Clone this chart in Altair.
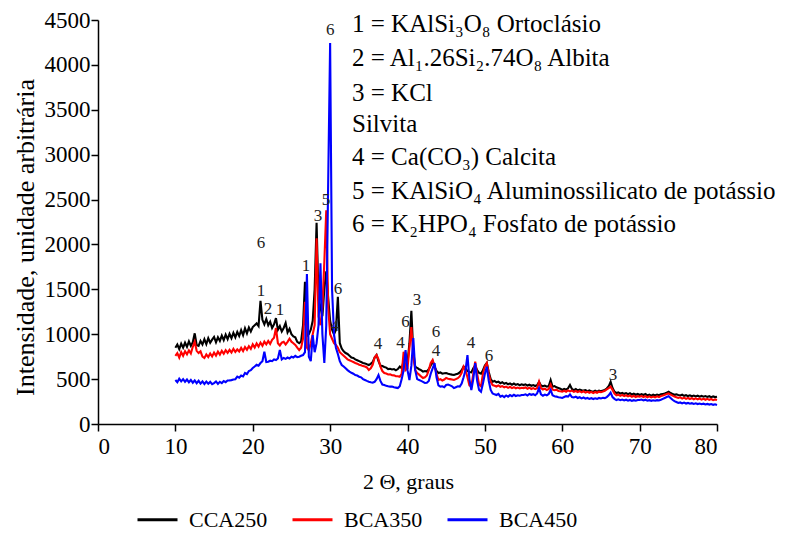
import altair as alt
import pandas as pd

# ---------------- data ----------------
series_names = ["CCA250", "BCA350", "BCA450"]
series_colors = ["#000000", "#ff0000", "#0000ff"]

theta_start = 10.0
theta_step = 0.25

cca250 = [
    850, 885, 835, 895, 850, 905, 860, 920, 870, 910, 1010, 880, 870, 925, 885, 945, 890, 955, 905, 940,
    970, 910, 965, 925, 985, 935, 995, 945, 1005, 955, 1015, 965, 1025, 980, 1045, 990, 1065, 1010, 1075, 1030,
    1080, 1100, 1120, 1090, 1373, 1160, 1110, 1170, 1100, 1140, 1070, 1110, 1180, 1050, 1090, 1030, 1070, 1125, 1020, 1060,
    1000, 975, 965, 915, 900, 920, 1100, 1585, 980, 1000, 1050, 1150, 1500, 2240, 1400, 1300, 1200, 1500, 1700, 1400,
    1150, 1050, 1000, 1050, 1418, 900, 840, 810, 790, 780, 760, 740, 735, 720, 710, 700, 690, 680, 675, 665,
    657, 670, 690, 740, 768, 700, 650, 645, 635, 628, 612, 615, 608, 612, 598, 612, 640, 620, 700, 650,
    680, 900, 1262, 800, 640, 624, 610, 600, 583, 590, 585, 610, 650, 700, 640, 590, 568, 575, 560, 565,
    568, 560, 555, 550, 546, 555, 560, 575, 600, 640, 620, 590, 580, 575, 620, 650, 600, 570, 560, 600,
    650, 680, 580, 500, 471, 480, 465, 472, 455, 465, 448, 458, 442, 452, 438, 450, 436, 444, 432, 442,
    434, 442, 428, 438, 426, 434, 423, 432, 470, 430, 420, 428, 416, 422, 490, 415, 422, 408, 402, 393,
    379, 392, 383, 397, 434, 390, 378, 390, 373, 384, 376, 372, 378, 366, 374, 363, 360, 370, 360, 372,
    365, 372, 380, 395, 420, 471, 400, 360, 345, 352, 338, 347, 336, 344, 333, 342, 328, 338, 326, 334,
    323, 332, 323, 334, 318, 328, 316, 326, 318, 328, 320, 330, 335, 340, 350, 360, 345, 335, 325, 330,
    323, 318, 326, 314, 321, 311, 319, 309, 317, 307, 315, 305, 313, 304, 311, 301, 309, 299, 307, 300,
    304,
]

bca350 = [
    760, 790, 740, 800, 760, 810, 775, 820, 785, 860, 917, 815, 790, 810, 750, 735, 775, 745, 785, 752,
    795, 762, 805, 772, 815, 782, 822, 792, 826, 797, 837, 802, 830, 807, 847, 812, 857, 827, 867, 837,
    887, 852, 897, 862, 907, 872, 917, 887, 924, 892, 937, 960, 1069, 900, 875, 906, 915, 885, 915, 950,
    917, 900, 880, 850, 824, 850, 950, 1360, 850, 820, 900, 1000, 1100, 2070, 1200, 1100, 1300, 1800, 2380, 1300,
    1000, 950, 900, 880, 850, 800, 780, 760, 740, 720, 710, 700, 690, 680, 672, 660, 655, 645, 640, 630,
    601, 620, 660, 740, 768, 720, 640, 590, 568, 562, 552, 553, 543, 542, 532, 532, 525, 560, 805, 600,
    620, 850, 1080, 750, 600, 568, 550, 530, 512, 520, 540, 600, 680, 713, 640, 560, 490, 500, 485, 495,
    512, 505, 500, 495, 490, 500, 510, 530, 570, 638, 600, 520, 430, 416, 560, 694, 560, 440, 420, 560,
    640, 679, 560, 470, 434, 427, 418, 430, 414, 422, 408, 417, 403, 414, 400, 410, 398, 406, 396, 404,
    400, 407, 393, 404, 390, 400, 388, 398, 471, 400, 385, 394, 378, 390, 440, 382, 376, 382, 368, 365,
    360, 370, 360, 374, 363, 372, 358, 368, 356, 366, 353, 364, 350, 360, 348, 358, 346, 357, 348, 360,
    355, 362, 370, 385, 400, 416, 380, 340, 320, 327, 313, 324, 310, 320, 308, 317, 303, 314, 300, 310,
    304, 312, 300, 310, 298, 308, 296, 306, 298, 308, 300, 312, 318, 326, 334, 340, 328, 316, 305, 298,
    290, 297, 283, 294, 280, 290, 278, 288, 276, 286, 274, 284, 272, 282, 270, 280, 268, 278, 266, 274,
    267,
]

bca450 = [
    490, 465, 505, 475, 500, 470, 495, 465, 490, 460, 485, 455, 482, 450, 474, 446, 472, 448, 469, 444,
    455, 474, 446, 469, 456, 479, 466, 484, 486, 489, 496, 499, 527, 515, 540, 530, 568, 555, 590, 600,
    624, 640, 660, 650, 679, 700, 805, 690, 694, 705, 700, 720, 713, 730, 824, 720, 735, 725, 740, 730,
    749, 740, 760, 745, 749, 760, 768, 800, 1670, 750, 700, 990, 800, 900, 1100, 1790, 1000, 679, 1100, 2700,
    4243, 1500, 1000, 850, 780, 700, 657, 640, 620, 600, 583, 570, 560, 545, 540, 527, 520, 500, 490, 480,
    471, 465, 460, 470, 500, 546, 480, 440, 434, 425, 420, 416, 418, 410, 405, 400, 420, 500, 600, 824,
    600, 490, 650, 957, 600, 500, 490, 480, 470, 457, 460, 480, 560, 620, 679, 520, 430, 416, 420, 410,
    434, 440, 430, 420, 400, 410, 420, 416, 450, 520, 600, 768, 500, 379, 500, 679, 480, 380, 360, 450,
    560, 638, 480, 380, 340, 330, 323, 335, 304, 315, 300, 318, 305, 322, 310, 325, 312, 320, 315, 323,
    323, 330, 318, 335, 325, 332, 320, 340, 400, 330, 315, 328, 320, 335, 380, 320, 310, 305, 298, 295,
    290, 300, 310, 305, 330, 300, 295, 305, 290, 298, 285, 295, 282, 290, 280, 288, 278, 286, 280, 290,
    285, 292, 288, 300, 320, 350, 300, 280, 267, 275, 265, 272, 262, 270, 260, 268, 258, 265, 260, 268,
    267, 272, 262, 270, 260, 266, 258, 264, 260, 266, 262, 270, 280, 290, 300, 310, 290, 270, 255, 245,
    234, 240, 230, 238, 228, 235, 226, 232, 224, 230, 222, 228, 220, 226, 218, 224, 216, 222, 214, 220,
    212,
]

# peak identification labels (2θ, intensity, label)
peak_theta = [30.0, 29.47, 28.43, 21.07, 21.07, 21.97, 23.52, 26.88, 31.02, 30.63,
              36.19, 39.1, 39.75, 41.23, 43.68, 43.68, 48.21, 50.53, 66.56]
peak_int = [4388, 2494, 2316, 2016, 1481, 1281, 1270, 1760, 1503, 1091,
            891, 905, 1140, 1381, 1030, 815, 902, 757, 546]
peak_txt = ["6", "5", "3", "6", "1", "2", "1", "1", "6", "4",
            "4", "4", "6", "3", "6", "4", "4", "6", "3"]

# phase key text (placed in data coordinates)
key_lines = [
    "1 = KAlSi₃O₈ Ortoclásio",
    "2 = Al₁.26Si₂.74O₈ Albita",
    "3 = KCl",
    "Silvita",
    "4 = Ca(CO₃) Calcita",
    "5 = KAlSiO₄  Aluminossilicato  de potássio",
    "6 = K₂HPO₄ Fosfato de potássio",
]
key_theta = [32.83] * len(key_lines)
key_int = [4365, 3987, 3597, 3252, 2884, 2506, 2138]

x_ticks = [5 * i for i in range(17)]
y_ticks = [250 * i for i in range(19)]

# ---------------- build table ----------------
rows = []
for name, vals in zip(series_names, [cca250, bca350, bca450]):
    for i, v in enumerate(vals):
        rows.append({"theta": theta_start + theta_step * i, "I": v, "series": name})
df = pd.DataFrame(rows)

peaks_df = pd.DataFrame({"theta": peak_theta, "I": peak_int, "t": peak_txt})
key_df = pd.DataFrame({"theta": key_theta, "I": key_int, "t": key_lines})

FONT = "Liberation Serif, Times New Roman, serif"

x_enc = alt.X(
    "theta:Q",
    scale=alt.Scale(domain=[0, 80], nice=False),
    axis=alt.Axis(
        values=x_ticks,
        labelExpr="datum.value % 10 === 0 ? datum.label : ''",
        tickSize={"condition": {"test": "datum.value % 10 === 0", "value": 7}, "value": 4},
        title="2 Θ, graus",
        grid=False,
        labelPadding=4,
        titleX=310,
        titleY=64,
        titleBaseline="alphabetic",
        titleAlign="center",
        titleFontSize=22,
    ),
)
y_enc = alt.Y(
    "I:Q",
    scale=alt.Scale(domain=[0, 4500], nice=False),
    axis=alt.Axis(
        values=y_ticks,
        labelExpr="datum.value % 500 === 0 ? datum.label : ''",
        tickSize={"condition": {"test": "datum.value % 500 === 0", "value": 7}, "value": 4},
        title="Intensidade, unidade arbitrária",
        grid=False,
        labelPadding=1,
        format="d",
        titleX=-73,
        titleY=217,
        titleBaseline="middle",
        titleAlign="center",
        titleFontSize=26,
    ),
)

lines = alt.Chart(df).mark_line(strokeWidth=2.1).encode(
    x=x_enc,
    y=y_enc,
    color=alt.Color(
        "series:N",
        scale=alt.Scale(domain=series_names, range=series_colors),
        sort=series_names,
        legend=alt.Legend(
            title=None,
            orient="none",
            direction="horizontal",
            legendX=38,
            legendY=478,
            symbolType="stroke",
            symbolSize=1600,
            symbolStrokeWidth=3,
            labelFontSize=22,
            labelFont=FONT,
            labelColor="#000000",
            labelOffset=10,
            columnPadding=18,
            padding=0,
        ),
    ),
)

peaks = alt.Chart(peaks_df).mark_text(font=FONT, fontSize=17, color="#222222").encode(
    x="theta:Q", y="I:Q", text="t:N"
)

key = alt.Chart(key_df).mark_text(
    font=FONT, fontSize=25, color="#000000", align="left", baseline="alphabetic"
).encode(x="theta:Q", y="I:Q", text="t:N")

chart = (
    alt.layer(lines, peaks, key)
    .properties(
        width=619,
        height=404,
        autosize=alt.AutoSizeParams(type="none"),
        padding={"left": 98, "top": 20, "right": 68, "bottom": 109},
        background="#ffffff",
    )
    .configure_view(strokeWidth=0)
    .configure_axis(
        labelFont=FONT,
        titleFont=FONT,
        labelFontSize=23,
        titleFontWeight="normal",
        labelColor="#000000",
        titleColor="#000000",
        domainColor="#000000",
        tickColor="#000000",
        domainWidth=1.5,
        tickWidth=1.5,
    )
)

chart.save("out.html", embed_options={"renderer": "svg", "actions": False})
